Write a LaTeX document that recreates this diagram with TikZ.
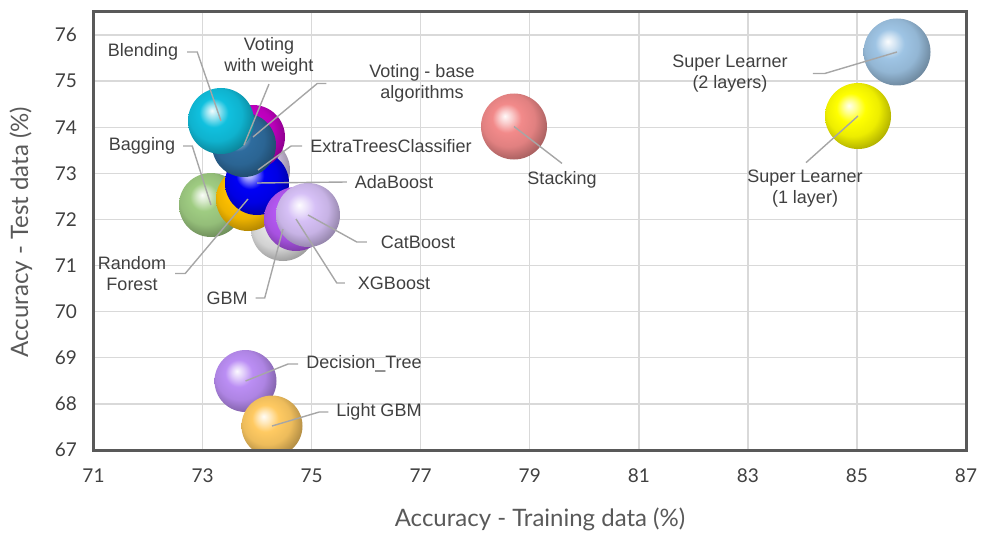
\documentclass[tikz,border=0pt]{standalone}
\usepackage{fontspec}
\setmainfont{Liberation Sans}
\newfontfamily\tickfont{Lato}
\definecolor{txt}{HTML}{404040}
\definecolor{tick}{HTML}{404040}
\definecolor{gridc}{HTML}{D9D9D9}
\definecolor{framec}{HTML}{595959}
\definecolor{leadc}{HTML}{A6A6A6}
\definecolor{cgreen}{HTML}{9FCC82}
\definecolor{corange}{HTML}{FFC000}
\definecolor{cextra}{HTML}{D8C8E8}
\definecolor{cblue}{HTML}{0000F5}
\definecolor{cmag}{HTML}{C800C8}
\definecolor{csteel}{HTML}{2E6C9E}
\definecolor{ccyan}{HTML}{10C0DE}
\definecolor{csilver}{HTML}{E2E2E2}
\definecolor{cpurple}{HTML}{B458F2}
\definecolor{clav}{HTML}{D6C0F6}
\definecolor{cstack}{HTML}{F28A8A}
\definecolor{csltwo}{HTML}{9EC4E4}
\definecolor{cslone}{HTML}{FFFF00}
\definecolor{cdt}{HTML}{BB8EF4}
\definecolor{clgbm}{HTML}{FFCA62}
\colorlet{ballc}{red}
\pgfdeclareradialshading[ballc]{myball}{\pgfpoint{-7bp}{8bp}}{%
  color(0bp)=(ballc!5!white); color(5bp)=(ballc!45!white);
  color(11bp)=(ballc); color(20bp)=(ballc!93!black);
  color(28bp)=(ballc!72!black); color(36bp)=(ballc!52!black);
  color(50bp)=(ballc!45!black)}
\begin{document}
\begin{tikzpicture}[x=1pt,y=-1pt,
  sph/.style={circle, inner sep=0pt, draw=none},
  bc/.style={/utils/exec={\colorlet{ballc}{#1}}, shading=myball, shade},
  lbl/.style={font=\fontsize{18}{21}\selectfont, text=txt, inner sep=0pt, align=center},
  leader/.style={draw=leadc, line width=1.4pt},
  ticklbl/.style={font=\tickfont\fontsize{19}{22}\selectfont, text=tick, inner sep=0pt},
  axtitle/.style={font=\tickfont\fontsize{24}{28}\selectfont, text=framec, inner sep=0pt}]
\useasboundingbox (0,0) rectangle (981,532);
% grid
\foreach \v in {0,...,8} {
  \draw[gridc, line width=1.4pt] (93.5,35+46.1*\v) -- (966,35+46.1*\v);
  \pgfmathtruncatemacro{\lab}{76-\v}
  \node[ticklbl, anchor=east] (ty\v) at (77,35+46.1*\v) {\lab};
}
\node[ticklbl, anchor=east] (ty9) at (77,450) {67};
\foreach \i in {1,...,7} {
  \draw[gridc, line width=1.4pt] (93.5+109.0625*\i,12) -- (93.5+109.0625*\i,450);
}
\foreach \i in {0,...,8} {
  \pgfmathtruncatemacro{\lab}{71+2*\i}
  \node[ticklbl] (tx\i) at (93.5+109.0625*\i,476) {\lab};
}
% spheres
\begin{scope}
\clip (93.5,12) rectangle (966,450);
\node[sph, bc=cgreen, minimum size=64pt] (bag) at (211,205) {};
\node[sph, bc=csilver, minimum size=64pt] (gbm) at (283,229) {};
\node[sph, bc=corange, minimum size=64pt] (rf) at (248,199) {};
\node[sph, bc=cextra, minimum size=64pt] (etc) at (258,170) {};
\node[sph, bc=cblue, minimum size=64pt] (ada) at (257,183) {};
\node[sph, bc=cmag, minimum size=64pt] (vb) at (253,137) {};
\node[sph, bc=csteel, minimum size=64pt] (vw) at (244,145) {};
\node[sph, bc=ccyan, minimum size=66pt] (blend) at (221,121) {};
\node[sph, bc=cpurple, minimum size=64pt] (xgb) at (296,219) {};
\node[sph, bc=clav, minimum size=64pt] (cat) at (308,215) {};
\node[sph, bc=cstack, minimum size=66pt] (stack) at (514,126.5) {};
\node[sph, bc=csltwo, minimum size=67pt] (sltwo) at (897,52) {};
\node[sph, bc=cslone, minimum size=66pt] (slone) at (858,116) {};
\node[sph, bc=cdt, minimum size=62pt] (dt) at (245.5,381) {};
\node[sph, bc=clgbm, minimum size=61pt] (lgbm) at (272,426) {};
\end{scope}
% frame
\draw[framec, line width=3pt] (93.5,12) rectangle (966,450);
% labels
\node[lbl] (blendL) at (143,52) {Blending};
\node[lbl] (vwL) at (269,56) {Voting\\with weight};
\node[lbl] (vbL) at (422,83.5) {Voting - base\\algorithms};
\node[lbl] (etcL) at (391,146) {ExtraTreesClassifier};
\node[lbl] (adaL) at (394,182) {AdaBoost};
\node[lbl] (bagL) at (142,146) {Bagging};
\node[lbl] (rfL) at (132,273.5) {Random\\Forest};
\node[lbl] (gbmL) at (227,298) {GBM};
\node[lbl] (xgbL) at (394,283) {XGBoost};
\node[lbl] (catL) at (418,242) {CatBoost};
\node[lbl] (stackL) at (562,180) {Stacking};
\node[lbl] (sltwoL) at (730,73.5) {Super Learner\\(2 layers)};
\node[lbl] (sloneL) at (805,188.5) {Super Learner\\(1 layer)};
\node[lbl] (dtL) at (364,364) {Decision\_Tree};
\node[lbl] (lgbmL) at (379,412) {Light GBM};
% leaders
\draw[leader] (blendL.east) ++(9,0) -- ++(10,0) -- (blend.center);
\draw[leader] (vwL.south) ++(0,9) -- (vw.center);
\draw[leader] (vbL.west) ++(-43,0) -- ++(-9,0) -- (vb.center);
\draw[leader] (etcL.west) ++(-8,0) -- ++(-11,0) -- (etc.center);
\draw[leader] (adaL.west) ++(-8,0) -- (ada.center);
\draw[leader] (bagL.east) ++(8,0) -- ++(9,0) -- (bag.center);
\draw[leader] (rfL.east) ++(9,0) -- ++(10,0) -- (rf.center);
\draw[leader] (gbmL.east) ++(8,0) -- ++(9,0) -- (gbm.center);
\draw[leader] (xgbL.west) ++(-13,0) -- ++(-8,0) -- (xgb.center);
\draw[leader] (catL.west) ++(-14,0) -- ++(-10,0) -- (cat.center);
\draw[leader] (stackL.north) ++(0,-8) -- (stack.center);
\draw[leader] (sltwoL.east) ++(25,0) -- ++(12,0) -- (sltwo.center);
\draw[leader] (sloneL.north) ++(1,-7) -- (slone.center);
\draw[leader] (dtL.west) ++(-8,0) -- ++(-10,0) -- (dt.center);
\draw[leader] (lgbmL.west) ++(-8,0) -- ++(-9,0) -- (lgbm.center);
% axis titles
\node[axtitle] (xt) at (540,519) {Accuracy - Training data (\%)};
\node[axtitle, rotate=90] (yt) at (21,232) {Accuracy - Test data (\%)};
\end{tikzpicture}
\end{document}
